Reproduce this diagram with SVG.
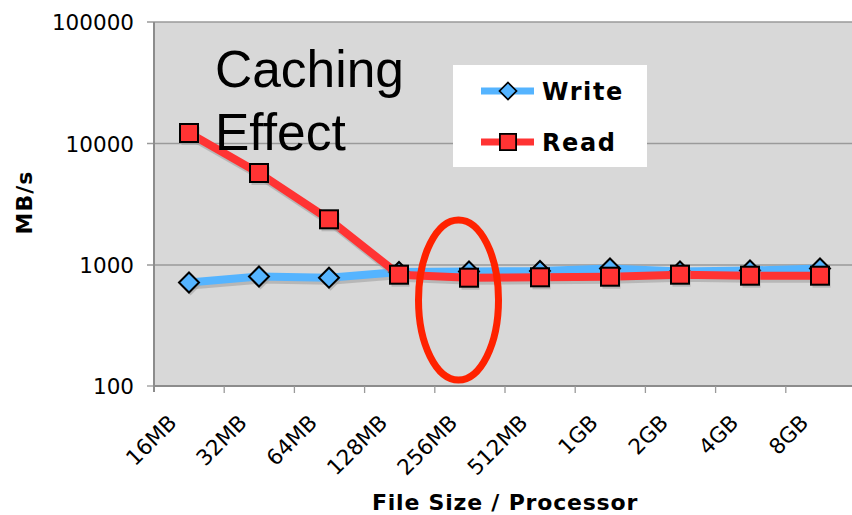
<svg xmlns="http://www.w3.org/2000/svg" width="852" height="515" viewBox="0 0 852 515">
  <style>
    .tick { font-family: "DejaVu Sans", Verdana, sans-serif; font-size: 21.5px; fill: #000; }
    .title { font-family: "DejaVu Sans", Verdana, sans-serif; font-weight: bold; fill: #000; }
    .grid { stroke: #9a9a9a; stroke-width: 1.3; }
    .axis { stroke: #8c8c8c; stroke-width: 2; fill: none; }
    .wline { fill: none; stroke: #55b4ff; stroke-width: 8; stroke-linejoin: round; }
    .rline { fill: none; stroke: #ff3333; stroke-width: 8; stroke-linejoin: round; }
    .shadow { fill: none; stroke: #9c9c9c; stroke-width: 8; stroke-opacity: 0.55; stroke-linejoin: round; }
    .wmark { fill: #55b4ff; stroke: #000; stroke-width: 2; }
    .rmark { fill: #ff3333; stroke: #000; stroke-width: 2; }
    .mshadow { fill: #9c9c9c; fill-opacity: 0.55; }
  </style>
  <defs>
    <path id="diamond" d="M0,-10 L10,0 L0,10 L-10,0 Z"/>
    <rect id="square" x="-9" y="-9" width="18" height="18"/>
  </defs>

  <rect width="852" height="515" fill="#fff"/>

  <!-- plot area -->
  <rect x="154" y="22" width="698" height="364" fill="#d8d8d8"/>
  <g id="gridlines">
    <line class="grid" x1="147" y1="22" x2="852" y2="22"/>
    <line class="grid" x1="147" y1="143.5" x2="852" y2="143.5"/>
    <line class="grid" x1="147" y1="265" x2="852" y2="265"/>
    <line class="grid" x1="147" y1="386" x2="154" y2="386"/>
  </g>
  <g id="axes">
    <line class="axis" x1="154" y1="22" x2="154" y2="392"/>
    <line class="axis" x1="154" y1="386" x2="852" y2="386"/>
    <g stroke="#9a9a9a" stroke-width="1.3">
      <line x1="224.2" y1="386" x2="224.2" y2="393"/>
      <line x1="294.4" y1="386" x2="294.4" y2="393"/>
      <line x1="364.6" y1="386" x2="364.6" y2="393"/>
      <line x1="434.8" y1="386" x2="434.8" y2="393"/>
      <line x1="505" y1="386" x2="505" y2="393"/>
      <line x1="575.2" y1="386" x2="575.2" y2="393"/>
      <line x1="645.4" y1="386" x2="645.4" y2="393"/>
      <line x1="715.6" y1="386" x2="715.6" y2="393"/>
      <line x1="785.8" y1="386" x2="785.8" y2="393"/>
    </g>
  </g>

  <!-- y axis labels -->
  <g id="y-labels" class="tick" text-anchor="end">
    <text x="134" y="30">100000</text>
    <text x="134" y="151.5">10000</text>
    <text x="134" y="273">1000</text>
    <text x="134" y="394">100</text>
  </g>

  <!-- x axis labels -->
  <g id="x-labels" class="tick" text-anchor="end">
    <text transform="translate(178,424) rotate(-45)">16MB</text>
    <text transform="translate(248.2,424) rotate(-45)">32MB</text>
    <text transform="translate(318.4,424) rotate(-45)">64MB</text>
    <text transform="translate(388.6,424) rotate(-45)">128MB</text>
    <text transform="translate(458.8,424) rotate(-45)">256MB</text>
    <text transform="translate(529,424) rotate(-45)">512MB</text>
    <text transform="translate(599.2,424) rotate(-45)">1GB</text>
    <text transform="translate(669.4,424) rotate(-45)">2GB</text>
    <text transform="translate(739.6,424) rotate(-45)">4GB</text>
    <text transform="translate(809.8,424) rotate(-45)">8GB</text>
  </g>

  <text class="title" font-size="22" letter-spacing="0.8" text-anchor="middle" x="505" y="510">File Size / Processor</text>
  <text class="title" font-size="22" letter-spacing="1" text-anchor="middle" transform="translate(32,202.5) rotate(-90)">MB/s</text>

  <!-- series -->
  <g id="connectors">
    <polyline id="write-shadow" class="shadow" transform="translate(1.5,3)" points="189,282.5 259,276.5 329,277.7 399,272 469,271.5 540,271 610,268.5 680,271.5 750,270.5 820,268.5"/>
    <polyline id="write-line" class="wline" points="189,282.5 259,276.5 329,277.7 399,272 469,271.5 540,271 610,268.5 680,271.5 750,270.5 820,268.5"/>
  </g>
  <g id="write-markers">
    <g transform="translate(189,282.5)"><use href="#diamond" class="mshadow" x="1.5" y="3"/><use href="#diamond" class="wmark"/></g>
    <g transform="translate(259,276.5)"><use href="#diamond" class="mshadow" x="1.5" y="3"/><use href="#diamond" class="wmark"/></g>
    <g transform="translate(329,277.7)"><use href="#diamond" class="mshadow" x="1.5" y="3"/><use href="#diamond" class="wmark"/></g>
    <g transform="translate(399,272)"><use href="#diamond" class="wmark"/></g>
    <g transform="translate(469,271.5)"><use href="#diamond" class="wmark"/></g>
    <g transform="translate(540,271)"><use href="#diamond" class="wmark"/></g>
    <g transform="translate(610,268.5)"><use href="#diamond" class="wmark"/></g>
    <g transform="translate(680,271.5)"><use href="#diamond" class="wmark"/></g>
    <g transform="translate(750,270.5)"><use href="#diamond" class="wmark"/></g>
    <g transform="translate(820,268.5)"><use href="#diamond" class="wmark"/></g>
  </g>
  <g id="read-connectors">
    <polyline id="read-shadow" class="shadow" transform="translate(1.5,3)" points="189,133 259,173 329,219.3 399,274.7 469,277.7 540,277.3 610,276.7 680,274.7 750,275.7 820,275.7"/>
    <polyline id="read-line" class="rline" points="189,133 259,173 329,219.3 399,274.7 469,277.7 540,277.3 610,276.7 680,274.7 750,275.7 820,275.7"/>
  </g>
  <g id="read-markers">
    <g transform="translate(189,133)"><use href="#square" class="mshadow" x="1.5" y="3"/><use href="#square" class="rmark"/></g>
    <g transform="translate(259,173)"><use href="#square" class="mshadow" x="1.5" y="3"/><use href="#square" class="rmark"/></g>
    <g transform="translate(329,219.3)"><use href="#square" class="mshadow" x="1.5" y="3"/><use href="#square" class="rmark"/></g>
    <g transform="translate(399,274.7)"><use href="#square" class="mshadow" x="1.5" y="3"/><use href="#square" class="rmark"/></g>
    <g transform="translate(469,277.7)"><use href="#square" class="mshadow" x="1.5" y="3"/><use href="#square" class="rmark"/></g>
    <g transform="translate(540,277.3)"><use href="#square" class="mshadow" x="1.5" y="3"/><use href="#square" class="rmark"/></g>
    <g transform="translate(610,276.7)"><use href="#square" class="mshadow" x="1.5" y="3"/><use href="#square" class="rmark"/></g>
    <g transform="translate(680,274.7)"><use href="#square" class="mshadow" x="1.5" y="3"/><use href="#square" class="rmark"/></g>
    <g transform="translate(750,275.7)"><use href="#square" class="mshadow" x="1.5" y="3"/><use href="#square" class="rmark"/></g>
    <g transform="translate(820,275.7)"><use href="#square" class="mshadow" x="1.5" y="3"/><use href="#square" class="rmark"/></g>
  </g>

  <!-- legend -->
  <g id="legend">
    <rect x="453" y="65" width="194" height="102" fill="#fff"/>
    <line x1="481" y1="91" x2="534" y2="91" stroke="#55b4ff" stroke-width="7"/>
    <use href="#diamond" class="wmark" transform="translate(508,91) scale(0.85)"/>
    <text class="title" font-size="24" letter-spacing="1.6" x="542" y="100">Write</text>
    <line x1="481" y1="142" x2="534" y2="142" stroke="#ff3333" stroke-width="7"/>
    <use href="#square" class="rmark" transform="translate(508,142) scale(0.9)"/>
    <text class="title" font-size="24" letter-spacing="1.6" x="542" y="151">Read</text>
  </g>

  <!-- annotation -->
  <g id="annotation">
    <text x="215" y="87" font-family="'Liberation Sans', Arial, sans-serif" font-size="51.5" fill="#000">Caching</text>
    <text x="215" y="150" font-family="'Liberation Sans', Arial, sans-serif" font-size="51.5" fill="#000">Effect</text>
    <ellipse cx="458.5" cy="300" rx="40" ry="80" fill="none" stroke="#ff2200" stroke-width="7"/>
  </g>
</svg>
